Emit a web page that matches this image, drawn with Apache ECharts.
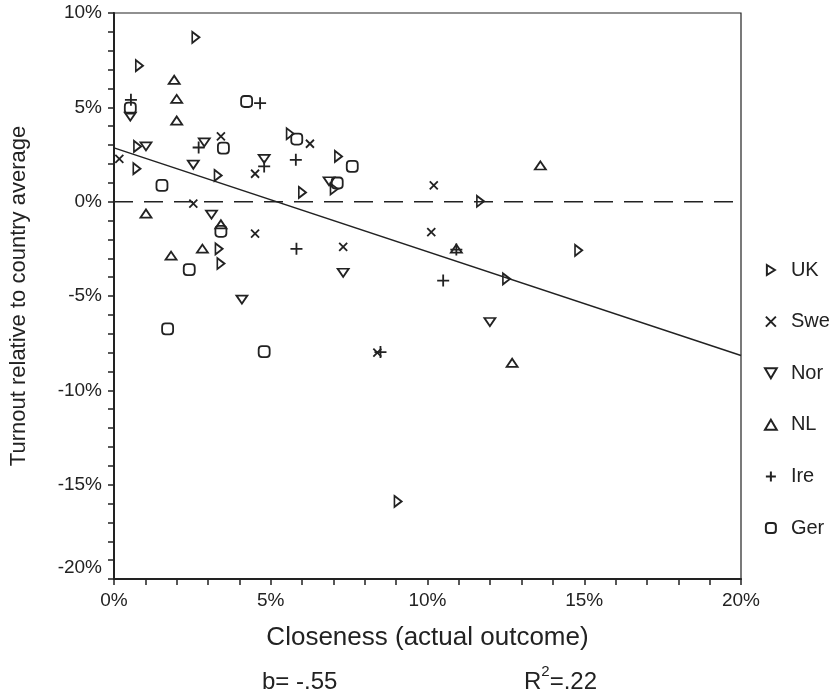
<!DOCTYPE html>
<html>
<head>
<meta charset="utf-8">
<script src="https://cdn.jsdelivr.net/npm/echarts@6/dist/echarts.min.js"></script>
<style>
  html, body { margin: 0; padding: 0; background: #fff; }
</style>
</head>
<body>
<div id="main" style="width: 838px;height:699px;"></div>
<script>
    // 各国数据点 (x = closeness %, y = turnout relative %)
    var ukX = [2.61, 0.81, 0.75, 0.73, 3.32, 5.62, 6.01, 7.16, 7.02, 3.35, 3.41, 11.69, 14.82, 12.52, 9.06];
    var ukY = [8.71, 7.21, 2.93, 1.75, 1.39, 3.60, 0.49, 2.40, 0.67, -2.50, -3.28, 0.02, -2.58, -4.09, -15.89];
    var sweX = [0.17, 2.53, 3.41, 4.50, 6.25, 4.50, 10.20, 10.12, 7.31, 8.40];
    var sweY = [2.27, -0.10, 3.46, 1.48, 3.07, -1.69, 0.86, -1.62, -2.40, -8.00];
    var norX = [0.52, 1.02, 2.53, 2.88, 4.79, 6.86, 3.11, 4.08, 7.31, 11.99];
    var norY = [4.51, 2.93, 1.96, 3.14, 2.27, 1.08, -0.69, -5.19, -3.77, -6.38];
    var nlX = [1.92, 2.00, 2.00, 1.02, 1.82, 2.82, 3.41, 10.92, 12.70, 13.60];
    var nlY = [6.46, 5.45, 4.30, -0.63, -2.86, -2.49, -1.20, -2.49, -8.54, 1.92];
    var ireX = [0.54, 4.66, 2.70, 4.79, 5.80, 5.82, 10.50, 8.50, 10.92];
    var ireY = [5.40, 5.22, 2.87, 1.87, 2.22, -2.50, -4.18, -7.97, -2.54];
    var gerX = [0.52, 1.53, 3.49, 4.23, 5.83, 7.12, 7.60, 2.40, 1.71, 4.79, 3.41];
    var gerY = [4.96, 0.86, 2.84, 5.31, 3.32, 0.99, 1.87, -3.60, -6.74, -7.95, -1.57];

    // 回归线端点 和 零线
    var fitX = [0, 20];
    var fitY = [2.85, -8.15];
    var zeroX = [0, 20];
    var zeroY = [0, 0];

    var countries = ['UK', 'Swe', 'Nor', 'NL', 'Ire', 'Ger'];
    var stats = ['b= -.55', 'R', '2', '=.22'];

    var font = 'Liberation Sans, Arial, sans-serif';
    var ink = '#222';

    var shapes = {
        UK: 'path://M0,0 L8,5 L0,10 Z',
        Swe: 'path://M0,0 L10,10 M10,0 L0,10',
        Nor: 'path://M0,0 L10,0 L5,8.5 Z',
        NL: 'path://M5,0 L10,8.5 L0,8.5 Z',
        Ire: 'path://M5,0 L5,10 M0,5 L10,5',
        Ger: 'path://M3,0 L7,0 Q10,0 10,3 L10,7 Q10,10 7,10 L3,10 Q0,10 0,7 L0,3 Q0,0 3,0 Z'
    };
    var sizes = {UK: [9, 11], Swe: [8, 8], Nor: [11, 9.5], NL: [11, 9.5], Ire: [12, 12], Ger: [11, 11]};

    function pairs(xs, ys) {
        var out = [];
        for (var i = 0; i < xs.length; i++) out.push([xs[i], ys[i]]);
        return out;
    }

    var pointSets = [pairs(ukX, ukY), pairs(sweX, sweY), pairs(norX, norY),
        pairs(nlX, nlY), pairs(ireX, ireY), pairs(gerX, gerY)];

    var series = [{
        type: 'line',
        data: pairs(zeroX, zeroY),
        showSymbol: false,
        silent: true,
        lineStyle: {color: ink, width: 1.5, type: [19, 11]}
    }, {
        type: 'line',
        data: pairs(fitX, fitY),
        showSymbol: false,
        silent: true,
        lineStyle: {color: ink, width: 1.5}
    }];
    for (var k = 0; k < countries.length; k++) {
        series.push({
            name: countries[k],
            type: 'scatter',
            data: pointSets[k],
            symbol: shapes[countries[k]],
            symbolSize: sizes[countries[k]],
            symbolKeepAspect: true,
            itemStyle: {color: 'rgba(0,0,0,0)', borderColor: ink, borderWidth: 1.8, opacity: 1}
        });
    }

    var myChart = echarts.init(document.getElementById('main'));
    var option = {
        animation: false,
        backgroundColor: '#fff',
        textStyle: {fontFamily: font},
        grid: {left: 113, right: 97, top: 13, bottom: 120, show: true, borderColor: ink, borderWidth: 1.2, backgroundColor: 'transparent'},
        legend: {
            data: countries,
            orient: 'vertical',
            left: 759,
            top: 255,
            itemWidth: 30,
            itemHeight: 10,
            itemGap: 31.6,
            selectedMode: false,
            textStyle: {fontSize: 20, color: ink, fontFamily: font, lineHeight: 20}
        },
        xAxis: {
            type: 'value',
            min: 0,
            max: 20,
            interval: 5,
            name: 'Closeness (actual outcome)',
            nameLocation: 'middle',
            nameGap: 46,
            nameTextStyle: {fontSize: 26, color: ink, fontFamily: font},
            axisLine: {onZero: false, lineStyle: {color: ink, width: 2}},
            axisTick: {show: true, inside: false, length: 6, lineStyle: {color: ink, width: 1.5}},
            minorTick: {show: true, splitNumber: 5, length: 6, lineStyle: {color: ink, width: 1.5}},
            splitLine: {show: false},
            axisLabel: {fontSize: 19, color: ink, margin: 12, formatter: '{value}%'}
        },
        yAxis: {
            type: 'value',
            min: -20,
            max: 10,
            interval: 5,
            name: 'Turnout relative to country average',
            nameLocation: 'middle',
            nameGap: 84,
            nameTextStyle: {fontSize: 22, color: ink, fontFamily: font},
            axisLine: {onZero: false, lineStyle: {color: ink, width: 2}},
            axisTick: {show: true, inside: false, length: 6, lineStyle: {color: ink, width: 1.5}},
            minorTick: {show: true, splitNumber: 5, length: 6, lineStyle: {color: ink, width: 1.5}},
            splitLine: {show: false},
            axisLabel: {
                fontSize: 19, color: ink, margin: 12,
                formatter: function (v) {
                    return v === -20 ? '{lift|-20%}' : v + '%';
                },
                rich: {lift: {fontSize: 19, color: ink, padding: [0, 0, 22, 0]}}
            }
        },
        graphic: [{
            type: 'text',
            left: 262,
            top: 670,
            style: {text: stats[0], font: '24px ' + font, fill: ink}
        }, {
            type: 'text',
            left: 524,
            top: 664,
            style: {
                text: '{n|' + stats[1] + '}{s|' + stats[2] + '}{n|' + stats[3] + '}',
                fill: ink,
                rich: {
                    n: {fontSize: 24, fontFamily: font, color: ink, verticalAlign: 'bottom', lineHeight: 30},
                    s: {fontSize: 15, fontFamily: font, color: ink, verticalAlign: 'top', lineHeight: 30}
                }
            }
        }],
        series: series
    };
    myChart.setOption(option);
</script>
</body>
</html>
